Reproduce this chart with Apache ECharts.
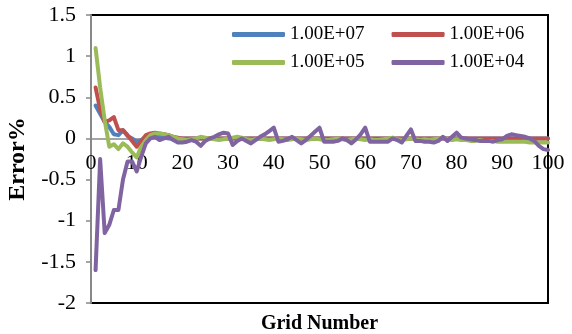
<!DOCTYPE html>
<html>
<head>
<meta charset="utf-8">
<script src="https://cdn.jsdelivr.net/npm/echarts@6/dist/echarts.min.js"></script>
<style>
  html, body { margin: 0; padding: 0; background: #fff; }
  #main { width: 572px; height: 334px; }
</style>
</head>
<body>
<div id="main"></div>
<script>
// error% per grid number (grid 1..100)
const err1e7 = [
  0.40, 0.30, 0.20, 0.14, 0.05, 0.04, 0.10, 0.03, 0.00, -0.04,
  -0.02, 0.02, 0.03, 0.03, 0.02, 0.01, 0.00, 0.00, 0.00, 0.00,
  0.00, 0.00, 0.00, 0.00, 0.00, 0.00, 0.00, 0.00, 0.00, 0.00,
  0.00, 0.00, 0.00, 0.00, 0.00, 0.00, 0.00, 0.00, 0.00, 0.00,
  0.00, 0.00, 0.00, 0.00, 0.00, 0.00, 0.00, 0.00, 0.00, 0.00,
  0.00, 0.00, 0.00, 0.00, 0.00, 0.00, 0.00, 0.00, 0.00, 0.00,
  0.00, 0.00, 0.00, 0.00, 0.00, 0.00, 0.00, 0.00, 0.00, 0.00,
  0.00, 0.00, 0.00, 0.00, 0.00, 0.00, 0.00, 0.00, 0.00, 0.00,
  0.00, 0.00, 0.00, 0.00, 0.00, 0.00, 0.00, 0.00, 0.00, 0.00,
  0.00, 0.00, 0.00, 0.00, 0.00, 0.00, 0.00, 0.00, 0.00, 0.00
];
const err1e6 = [
  0.62, 0.35, 0.20, 0.22, 0.26, 0.10, 0.10, 0.04, -0.03, -0.10,
  -0.03, 0.04, 0.06, 0.07, 0.06, 0.05, 0.04, 0.02, 0.01, 0.00,
  0.00, 0.00, 0.00, 0.00, 0.00, 0.00, 0.00, 0.00, 0.00, 0.00,
  0.00, 0.00, 0.00, 0.00, 0.00, 0.00, 0.00, 0.00, 0.00, 0.00,
  0.00, 0.00, 0.00, 0.00, 0.00, 0.00, 0.00, 0.00, 0.00, 0.00,
  0.00, 0.00, 0.00, 0.00, 0.00, 0.00, 0.00, 0.00, 0.00, 0.00,
  0.00, 0.00, 0.00, 0.00, 0.00, 0.00, 0.00, 0.00, 0.00, 0.00,
  0.00, 0.00, 0.00, 0.00, 0.00, 0.00, 0.00, 0.00, 0.00, 0.00,
  0.00, 0.00, 0.00, 0.00, 0.00, 0.00, 0.00, 0.00, 0.00, 0.00,
  0.00, 0.00, 0.00, 0.00, 0.00, 0.00, 0.00, 0.00, 0.00, 0.00
];
const err1e5 = [
  1.10, 0.62, 0.22, -0.10, -0.07, -0.13, -0.06, -0.10, -0.17, -0.23,
  -0.10, -0.02, 0.04, 0.06, 0.06, 0.05, 0.04, 0.02, 0.00, -0.01,
  -0.02, -0.01, 0.00, 0.02, 0.01, 0.00, -0.01, -0.02, -0.01, 0.00,
  0.01, 0.02, 0.01, -0.01, -0.02, -0.01, 0.00, -0.01, -0.02, -0.01,
  0.00, -0.01, -0.02, -0.01, 0.00, -0.01, -0.02, -0.01, 0.00, -0.01,
  -0.02, -0.02, -0.01, 0.00, -0.01, -0.02, -0.01, 0.00, -0.01, -0.02,
  -0.01, -0.02, -0.02, -0.01, 0.00, 0.01, -0.01, -0.02, -0.01, 0.00,
  -0.01, -0.02, -0.01, -0.02, -0.01, 0.00, 0.01, -0.01, -0.02, -0.01,
  -0.02, -0.02, -0.03, -0.03, -0.02, -0.03, -0.03, -0.03, -0.04, -0.04,
  -0.04, -0.04, -0.04, -0.04, -0.04, -0.05, -0.05, -0.05, -0.05, -0.05
];
const err1e4 = [
  -1.60, -0.25, -1.15, -1.05, -0.87, -0.87, -0.50, -0.28, -0.28, -0.40,
  -0.22, -0.06, 0.00, 0.02, -0.02, 0.00, 0.02, -0.02, -0.05, -0.05,
  -0.04, -0.02, -0.04, -0.09, -0.03, 0.00, 0.02, 0.05, 0.07, 0.06,
  -0.08, -0.03, 0.00, -0.03, -0.06, -0.02, 0.02, 0.05, 0.09, 0.13,
  -0.04, -0.03, -0.01, 0.02, -0.02, -0.06, -0.02, 0.03, 0.08, 0.13,
  -0.04, -0.04, -0.04, -0.03, 0.00, -0.02, -0.06, -0.01, 0.05, 0.13,
  -0.04, -0.04, -0.04, -0.04, -0.04, 0.00, -0.02, -0.05, 0.03, 0.11,
  -0.03, -0.03, -0.04, -0.04, -0.05, -0.03, 0.02, -0.03, 0.02, 0.07,
  0.01, 0.00, -0.01, -0.02, -0.03, -0.03, -0.03, -0.04, -0.02, -0.01,
  0.03, 0.05, 0.04, 0.03, 0.02, 0.00, -0.03, -0.09, -0.13, -0.14
];
const seriesNames = ['1.00E+07', '1.00E+06', '1.00E+05', '1.00E+04'];
const seriesColors = ['#4F81BD', '#C0504D', '#9BBB59', '#8064A2'];
const allSeries = [err1e7, err1e6, err1e5, err1e4];

const font = 'Liberation Serif';

function pairs(vals) {
  return vals.map((v, i) => [i + 1, v]);
}

var myChart = echarts.init(document.getElementById('main'));

var legendBase = {
  orient: 'horizontal',
  left: 232,
  padding: 0,
  itemWidth: 53,
  itemHeight: 5,
  itemGap: 27,
  icon: 'roundRect',
  textStyle: { fontFamily: font, fontSize: 19, color: '#000', padding: [0, 0, 0, 0] }
};

var option = {
  animation: false,
  backgroundColor: '#fff',
  legend: [
    Object.assign({}, legendBase, { top: 25, data: [seriesNames[0], seriesNames[1]] }),
    Object.assign({}, legendBase, { top: 53, data: [seriesNames[2], seriesNames[3]] })
  ],
  grid: {
    left: 91, right: 24, top: 15, bottom: 31,
    outerBoundsMode: 'none',
    containLabel: false,
    show: true, borderColor: '#000', borderWidth: 2
  },
  xAxis: {
    type: 'value',
    min: 0, max: 100, interval: 10,
    name: 'Grid Number',
    nameLocation: 'middle',
    nameGap: 175,
    nameTextStyle: { fontFamily: font, fontSize: 20, fontWeight: 'bold', color: '#000' },
    axisLine: { onZero: false, lineStyle: { color: '#888', width: 1.5 } },
    axisTick: { show: false },
    axisLabel: { fontFamily: font, fontSize: 22, color: '#000', margin: 14 },
    splitLine: { show: false }
  },
  yAxis: {
    type: 'value',
    min: -2, max: 1.5, interval: 0.5,
    name: 'Error%',
    nameLocation: 'middle',
    nameGap: 55,
    nameTextStyle: { fontFamily: font, fontSize: 24, fontWeight: 'bold', color: '#000' },
    axisLine: { show: true, onZero: false, lineStyle: { color: '#888', width: 2 } },
    axisTick: { show: true, length: 5, lineStyle: { color: '#888', width: 1.5 } },
    axisLabel: { fontFamily: font, fontSize: 22, color: '#000', margin: 15 },
    splitLine: { show: false }
  },
  series: allSeries.map((vals, k) => ({
    name: seriesNames[k],
    type: 'line',
    data: pairs(vals),
    showSymbol: false,
    symbol: 'none',
    color: seriesColors[k],
    lineStyle: { width: 4, color: seriesColors[k], cap: 'round', join: 'round' }
  }))
};

option && myChart.setOption(option);

// move the x axis up to the y = 0 line, using the chart's own y scale
var yZero = myChart.convertToPixel({ yAxisIndex: 0 }, 0);
var yBottom = myChart.convertToPixel({ yAxisIndex: 0 }, -2);
myChart.setOption({ xAxis: { offset: -(yBottom - yZero) } });
</script>
</body>
</html>
